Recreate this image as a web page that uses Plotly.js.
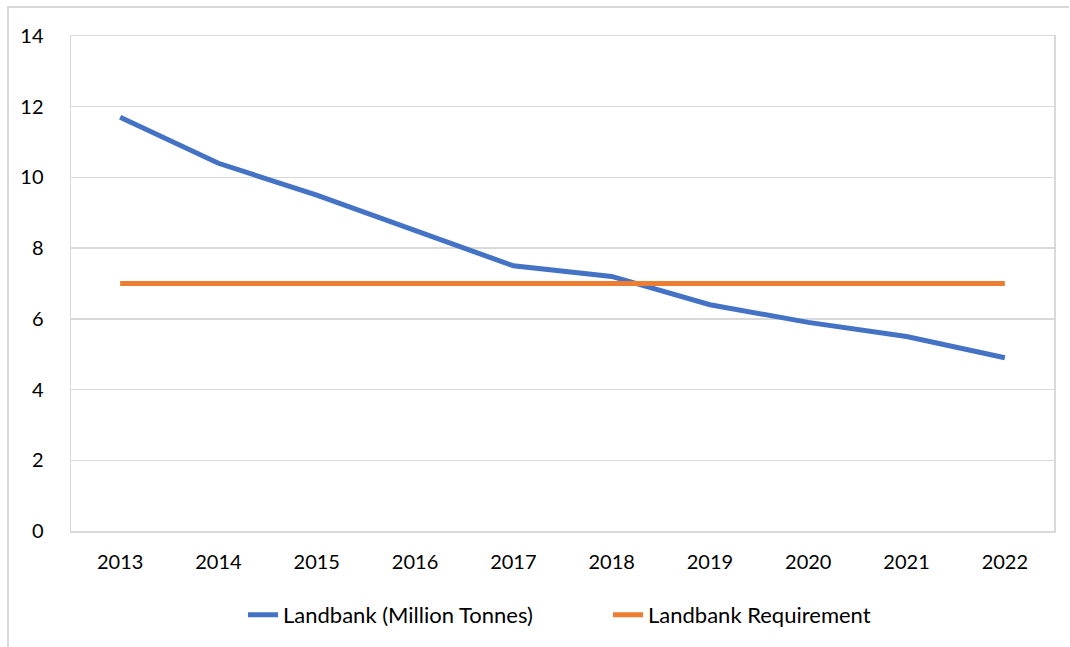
<!DOCTYPE html>
<html>
<head>
<meta charset="utf-8">
<script src="https://cdn.plot.ly/plotly-3.0.1.min.js"></script>
<style>
  html, body { margin: 0; padding: 0; background: #ffffff; }
  #wrap { position: relative; width: 1070px; height: 647px; }
  #chart { width: 1070px; height: 647px; }
  #frame { position: absolute; left: 7px; top: 6px; width: 1060px; height: 650px;
           border-left: 2px solid #d9d9d9; border-top: 2px solid #d9d9d9; pointer-events: none; }
</style>
</head>
<body>
<div id="wrap">
  <div id="chart"></div>
  <div id="frame"></div>
</div>
<script>
const years = ['2013', '2014', '2015', '2016', '2017', '2018', '2019', '2020', '2021', '2022'];
const landbank = [11.7, 10.4, 9.5, 8.5, 7.5, 7.2, 6.4, 5.9, 5.5, 4.9];
const requirement = [7, 7, 7, 7, 7, 7, 7, 7, 7, 7];
const seriesNames = ['Landbank (Million Tonnes)', 'Landbank Requirement'];

const fontFam = 'Lato, "Open Sans", "DejaVu Sans", sans-serif';

const traces = [
  { x: years, y: landbank, name: seriesNames[0], type: 'scatter', mode: 'lines',
    line: { color: '#4472C4', width: 5, shape: 'linear' } },
  { x: years, y: requirement, name: seriesNames[1], type: 'scatter', mode: 'lines',
    line: { color: '#ED7D31', width: 5 } }
];

const layout = {
  width: 1070, height: 647,
  margin: { l: 71, r: 16, t: 36, b: 115 },
  paper_bgcolor: '#ffffff', plot_bgcolor: '#ffffff',
  font: { family: fontFam, size: 20, color: '#000000' },
  showlegend: true,
  legend: { orientation: 'h', x: 0.175, xanchor: 'left', y: -0.167, yanchor: 'middle',
            font: { family: fontFam, size: 22, color: '#000000' }, itemwidth: 30,
            entrywidth: 320, entrywidthmode: 'pixels' },
  xaxis: { type: 'category', range: [-0.5, 9.5], showgrid: false, zeroline: false,
           showline: true, linecolor: '#d9d9d9', linewidth: 1.5, mirror: true,
           ticks: '', ticklabelstandoff: 12, tickfont: { size: 20 } },
  yaxis: { range: [0, 14], dtick: 2, tick0: 0, showgrid: true, gridcolor: '#d9d9d9', gridwidth: 1.5,
           zeroline: false, showline: true, linecolor: '#d9d9d9', linewidth: 1.5, mirror: true,
           ticks: '', ticklabelstandoff: 22, tickfont: { size: 20 } }
};

Plotly.newPlot('chart', traces, layout, { displayModeBar: false, staticPlot: true });
</script>
</body>
</html>
